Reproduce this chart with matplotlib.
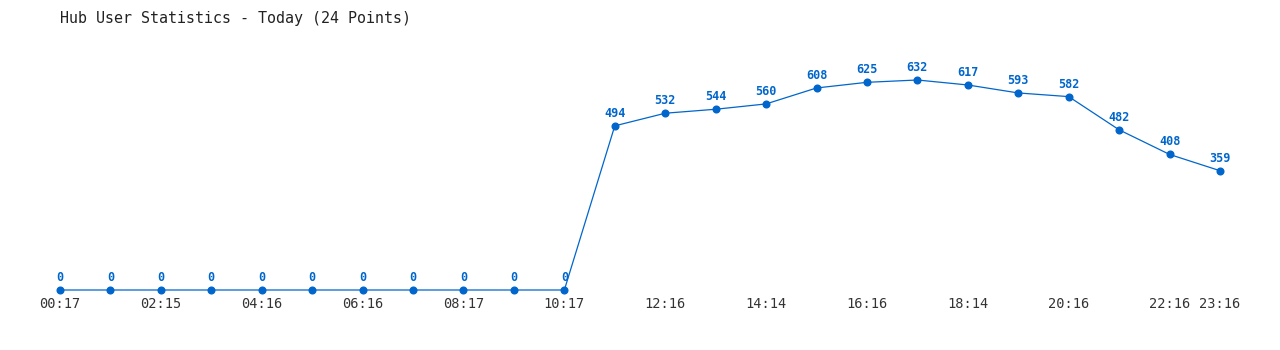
import matplotlib

matplotlib.use("Agg")
import matplotlib.pyplot as plt

times = [
    "00:17", "01:16", "02:15", "03:16", "04:16", "05:16", "06:16", "07:16",
    "08:17", "09:16", "10:17", "11:16", "12:16", "13:16", "14:14", "15:16",
    "16:16", "17:16", "18:14", "19:16", "20:16", "21:16", "22:16", "23:16",
]
users = [0, 0, 0, 0, 0, 0, 0, 0, 0, 0, 0,
         494, 532, 544, 560, 608, 625, 632, 617, 593, 582, 482, 408, 359]
shown_ticks = [0, 2, 4, 6, 8, 10, 12, 14, 16, 18, 20, 22, 23]

blue = "#0066cc"
mono = "DejaVu Sans Mono"

fig = plt.figure(figsize=(12.8, 3.5), dpi=100)
ax = fig.add_axes([60 / 1280, 60 / 350, 1160 / 1280, 232.6 / 350])

xs = list(range(len(users)))
ax.plot(xs, users, color=blue, linewidth=0.9, marker="o", markersize=4.8,
        clip_on=False)

for x, v in zip(xs, users):
    ax.annotate(str(v), (x, v), xytext=(0, 9), textcoords="offset points",
                ha="center", va="center", fontsize=8.5, fontweight="bold",
                color=blue, family=mono)

ax.set_xlim(0, 23)
ax.set_ylim(0, 700)
ax.set_xticks(shown_ticks)
ax.set_xticklabels([times[i] for i in shown_ticks], family=mono,
                   fontsize=9.8, color="#333333")
ax.tick_params(axis="x", length=0, pad=5)
ax.set_yticks([])
for s in ax.spines.values():
    s.set_visible(False)

fig.text(60 / 1280, 1 - 18 / 350, "Hub User Statistics - Today (24 Points)",
         family=mono, fontsize=10.8, color="#222222", va="center")

fig.savefig("out.png", dpi=100)
